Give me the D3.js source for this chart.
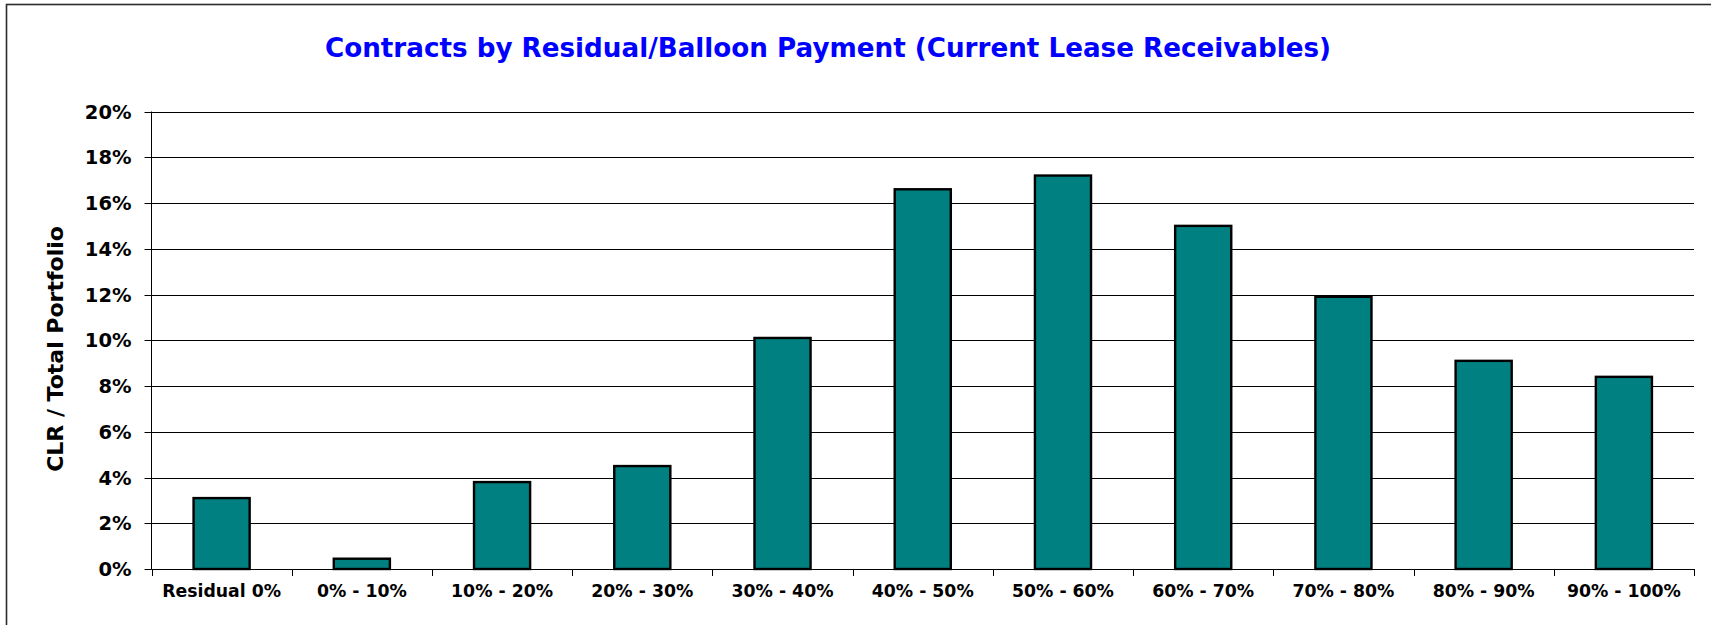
<!DOCTYPE html>
<html>
<head>
<meta charset="utf-8">
<script src="https://cdn.jsdelivr.net/npm/d3@7"></script>
<style>
  body { margin: 0; background: #fff; }
  svg { display: block; font-family: "DejaVu Sans", Verdana, sans-serif; font-weight: bold; }
</style>
</head>
<body>
<svg id="chart"></svg>
<script>
// data
let categories = ["Residual 0%", "0% - 10%", "10% - 20%", "20% - 30%", "30% - 40%",
                  "40% - 50%", "50% - 60%", "60% - 70%", "70% - 80%", "80% - 90%", "90% - 100%"];
let shares = [3.1, 0.45, 3.8, 4.5, 10.1, 16.6, 17.2, 15.0, 11.9, 9.1, 8.4];
let yTicks = [0, 2, 4, 6, 8, 10, 12, 14, 16, 18, 20];

let svgWidth = 1711,
    svgHeight = 625;

let svg = d3.select("#chart")
    .attr("width", svgWidth)
    .attr("height", svgHeight);

// outer frame (runs off the right / bottom edge like the original)
svg.append("rect")
    .attr("x", 6.5).attr("y", 4.5)
    .attr("width", 1760).attr("height", 700)
    .attr("fill", "#fff")
    .attr("stroke", "#2b2b2b")
    .attr("stroke-width", 1.6);

let plot = {left: 151.5, right: 1694, top: 111.5, bottom: 569};

let x = d3.scaleBand()
    .domain(categories)
    .range([plot.left, plot.right])
    .padding(0);

let y = d3.scaleLinear()
    .domain([0, 20])
    .range([plot.bottom, plot.top]);

// title
svg.append("text")
    .attr("x", 828).attr("y", 57)
    .attr("text-anchor", "middle")
    .attr("fill", "#0000ff")
    .style("font-size", "26.2px")
    .text("Contracts by Residual/Balloon Payment (Current Lease Receivables)");

// gridlines
svg.append("g")
    .selectAll("line")
    .data(yTicks)
    .enter().append("line")
        .attr("x1", plot.left).attr("x2", plot.right)
        .attr("y1", d => Math.round(y(d)) + 0.5)
        .attr("y2", d => Math.round(y(d)) + 0.5)
        .attr("stroke", "#000")
        .attr("stroke-width", 1);

// y axis
let yAxis = d3.axisLeft(y)
    .tickValues(yTicks)
    .tickFormat(d => d + "%")
    .tickSize(7)
    .tickPadding(13);

let gy = svg.append("g")
    .attr("transform", "translate(" + plot.left + ",0)")
    .call(yAxis);
gy.select(".domain").remove();
gy.selectAll(".tick line").attr("stroke", "#000");
gy.selectAll(".tick").attr("transform", d => "translate(0," + (Math.round(y(d)) + 0.5) + ")");
gy.selectAll("text")
    .attr("fill", "#000")
    .style("font-size", "19.5px")
    .style("font-family", "\"DejaVu Sans\", Verdana, sans-serif")
    .style("font-weight", "bold");

svg.append("line")
    .attr("x1", plot.left).attr("x2", plot.left)
    .attr("y1", plot.top).attr("y2", plot.bottom + 0.5)
    .attr("stroke", "#000");

// x axis ticks at category boundaries
let boundaries = categories.map(c => x(c)).concat([plot.right]);
svg.append("g")
    .selectAll("line")
    .data(boundaries)
    .enter().append("line")
        .attr("x1", d => Math.round(d) + 0.5).attr("x2", d => Math.round(d) + 0.5)
        .attr("y1", plot.bottom).attr("y2", plot.bottom + 7)
        .attr("stroke", "#000");

svg.append("g")
    .selectAll("text")
    .data(categories)
    .enter().append("text")
        .attr("x", d => x(d) + x.bandwidth() / 2)
        .attr("y", 597)
        .attr("text-anchor", "middle")
        .attr("fill", "#000")
        .style("font-size", "17.3px")
        .text(d => d);

// y axis title
svg.append("text")
    .attr("transform", "translate(63,349) rotate(-90)")
    .attr("text-anchor", "middle")
    .attr("fill", "#000")
    .style("font-size", "22px")
    .text("CLR / Total Portfolio");

// bars
let barW = x.bandwidth() * 0.4;
svg.append("g")
    .selectAll("rect")
    .data(shares)
    .enter().append("rect")
        .attr("x", (d, i) => x(categories[i]) + (x.bandwidth() - barW) / 2)
        .attr("y", d => y(d))
        .attr("width", barW)
        .attr("height", d => y(0) - y(d))
        .attr("fill", "#008080")
        .attr("stroke", "#000")
        .attr("stroke-width", 2.4);
</script>
</body>
</html>
